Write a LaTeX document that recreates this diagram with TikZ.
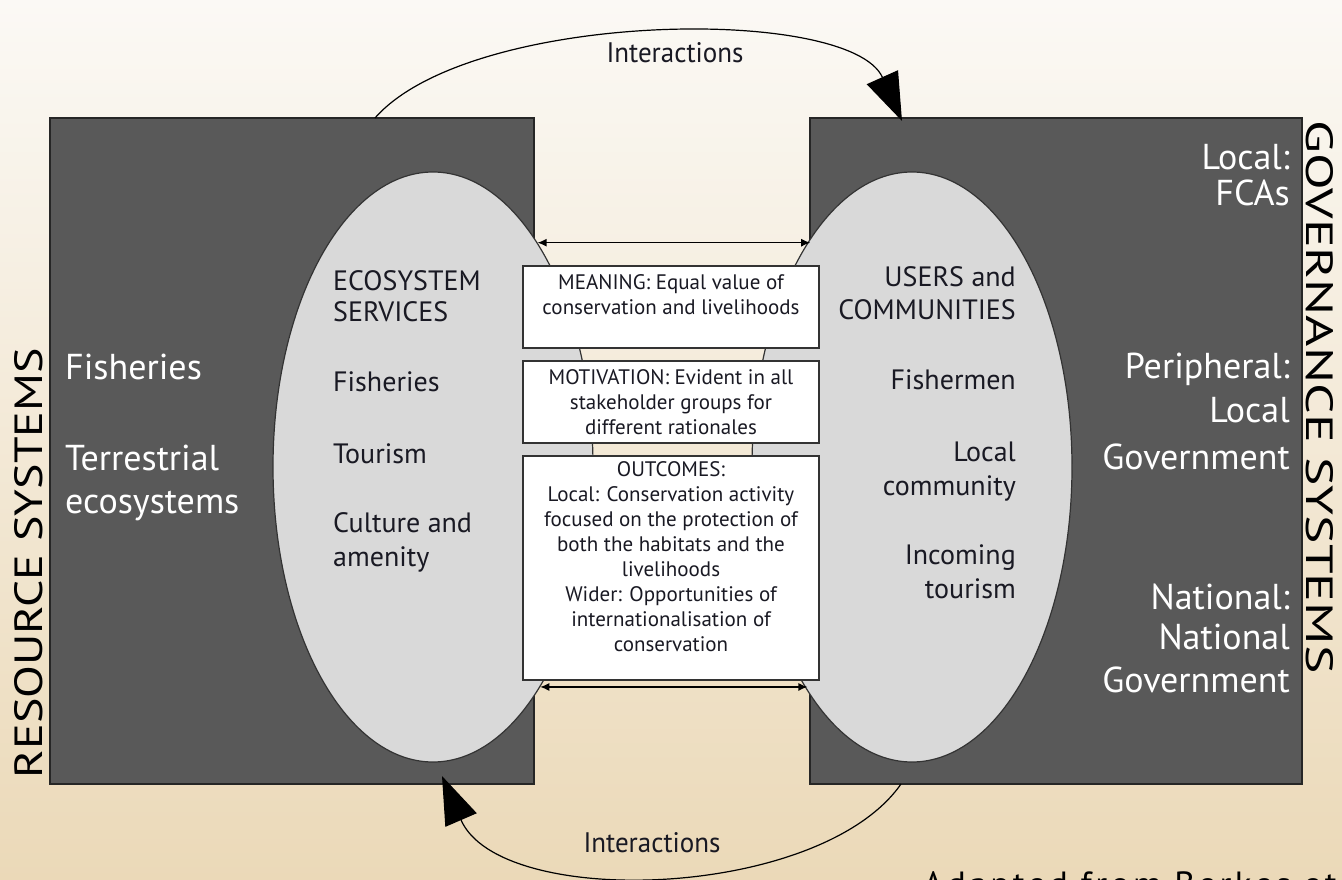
\documentclass[tikz,border=0pt]{standalone}
\usepackage{fontspec}
\setmainfont{PT Sans}
\usetikzlibrary{shapes.geometric,arrows.meta,calc}
\definecolor{bgtop}{RGB}{251,249,245}
\definecolor{bgbot}{RGB}{235,217,184}
\definecolor{rectfill}{RGB}{89,89,89}
\definecolor{ellfill}{RGB}{217,217,217}
\definecolor{inktxt}{RGB}{25,25,35}
\begin{document}
\begin{tikzpicture}[x=1pt,y=-1pt,
  sysrect/.style={draw=black!85,line width=1.5pt,fill=rectfill,inner sep=0},
  ellnode/.style={ellipse,draw=black!80,line width=1.2pt,fill=ellfill,inner sep=0,minimum width=320pt,minimum height=590pt},
  cbox/.style={draw=black!80,line width=1.5pt,fill=white,inner sep=0,minimum width=296pt},
  rtext/.style={text=white,font=\fontsize{36}{40}\selectfont,inner sep=0},
  etext/.style={text=inktxt,font=\fontsize{28}{32}\selectfont,inner sep=0},
  btext/.style={text=inktxt,font=\fontsize{21}{25}\selectfont,align=center,inner sep=0},
  bigarc/.style={line width=1.2pt,draw=black,-{Triangle[length=48pt,width=34pt]}},
  dblarr/.style={line width=1.2pt,draw=black,{Latex[length=9pt,width=8pt]}-{Latex[length=9pt,width=8pt]}},
  vlab/.style={text=black,inner sep=0}
]
\useasboundingbox (0,0) rectangle (1342,880);
\shade[top color=bgtop,bottom color=bgbot] (0,0) rectangle (1342,880);

% system rectangles
\node[sysrect,minimum width=484pt,minimum height=666pt] (lr) at (292,451) {};
\node[sysrect,minimum width=492pt,minimum height=666pt] (rr) at (1056,451) {};

% ellipses
\node[ellnode] (le) at (433,467) {};
\node[ellnode] (re) at (912,467) {};

% interaction arcs
\coordinate (ta) at (375,118);
\coordinate (tb) at (902,121);
\draw[bigarc] (ta) .. controls (470,10) and (850,5) .. (tb);
\coordinate (ba) at (901,784);
\coordinate (bb) at (442,776);
\draw[bigarc] (ba) .. controls (820,900) and (500,910) .. (bb);
\node[vlab,text=inktxt] (it1) at (675,53) {\resizebox{137pt}{20pt}{Interactions}};
\node[vlab,text=inktxt] (it2) at (652,843) {\resizebox{137pt}{20pt}{Interactions}};

% double arrows between ellipses
\draw[dblarr] (le.65.3) -- (le.65.3 -| re.114.7);
\draw[dblarr] (le.-64.85) -- (le.-64.85 -| re.-115.15);

% central boxes
\node[cbox,minimum height=82pt] (b1) at (671,307) {};
\node[cbox,minimum height=82pt] (b2) at (671,402) {};
\node[cbox,minimum height=224pt] (b3) at (671,568) {};
\node[btext,anchor=north] (b1t) at ($(b1.north)+(0,9)$) {MEANING: Equal value of\\conservation and livelihoods};
\node[btext,anchor=north] (b2t) at ($(b2.north)+(0,9)$) {MOTIVATION: Evident in all\\stakeholder groups for\\different rationales};
\node[btext,anchor=north] (b3t) at ($(b3.north)+(0,6)$) {OUTCOMES:\\Local: Conservation activity\\focused on the protection of\\both the habitats and the\\livelihoods\\Wider: Opportunities of\\internationalisation of\\conservation};

% left rectangle text
\node[rtext,anchor=base west] (l1) at (65,379) {Fisheries};
\node[rtext,anchor=base west] (l2) at (65,470) {Terrestrial};
\node[rtext,anchor=base west] (l3) at (65,513) {ecosystems};

% left ellipse text
\node[etext,anchor=base west] (e1) at (333,290) {ECOSYSTEM};
\node[etext,anchor=base west] (e2) at (333,321) {SERVICES};
\node[etext,anchor=base west] (e3) at (333,391) {Fisheries};
\node[etext,anchor=base west] (e4) at (333,463) {Tourism};
\node[etext,anchor=base west] (e5) at (333,532) {Culture and};
\node[etext,anchor=base west] (e6) at (333,566) {amenity};

% right ellipse text
\node[etext,anchor=base east] (u1) at (1016,286) {USERS and};
\node[etext,anchor=base east] (u2) at (1016,319) {COMMUNITIES};
\node[etext,anchor=base east] (u3) at (1016,389) {Fishermen};
\node[etext,anchor=base east] (u4) at (1016,461) {Local};
\node[etext,anchor=base east] (u5) at (1016,495) {community};
\node[etext,anchor=base east] (u6) at (1016,564) {Incoming};
\node[etext,anchor=base east] (u7) at (1016,598) {tourism};

% right rectangle text
\node[rtext,anchor=base east] (g1) at (1290,170) {Local:};
\node[rtext,anchor=base east] (g2) at (1290,205) {FCAs};
\node[rtext,anchor=base east] (g3) at (1290,378) {Peripheral:};
\node[rtext,anchor=base east] (g4) at (1290,422) {Local};
\node[rtext,anchor=base east] (g5) at (1290,469) {Government};
\node[rtext,anchor=base east] (g6) at (1290,609) {National:};
\node[rtext,anchor=base east] (g7) at (1290,649) {National};
\node[rtext,anchor=base east] (g8) at (1290,692) {Government};

% vertical labels
\node[vlab,rotate=90] (rs) at (29,563) {\resizebox{430pt}{28pt}{RESOURCE SYSTEMS}};
\node[vlab,rotate=-90] (gs) at (1320,397) {\resizebox{553pt}{27pt}{GOVERNANCE SYSTEMS}};

% source note (cut off at the page edge, as in the reference)
\node[vlab,anchor=north west] (src) at (923,871) {\fontsize{35}{40}\selectfont\addfontfeature{LetterSpace=10}Adapted from Berkes et al.};
\end{tikzpicture}
\end{document}
